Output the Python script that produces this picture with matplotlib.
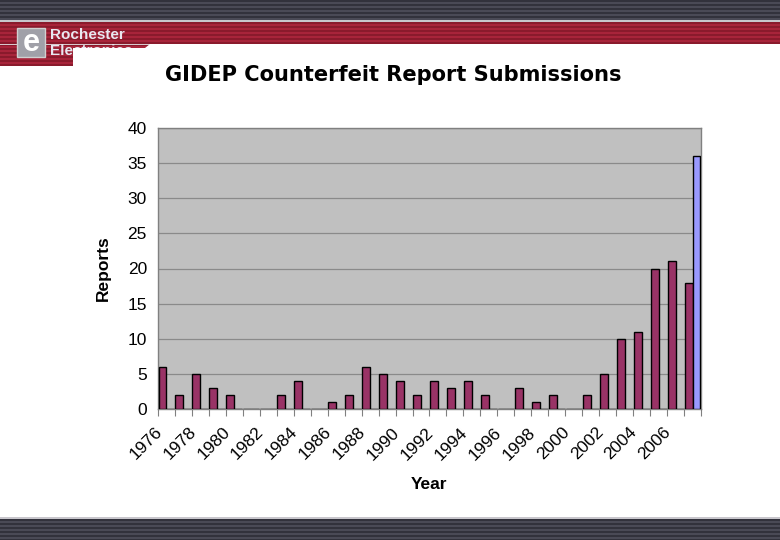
import matplotlib
matplotlib.use("Agg")
import matplotlib.pyplot as plt
from matplotlib.patches import Rectangle, Polygon
from matplotlib.transforms import ScaledTranslation
import numpy as np

plt.rcParams['font.family'] = ['Liberation Sans', 'DejaVu Sans']

# ---- data ----
years = list(range(1976, 2008))
reports = [6, 2, 5, 3, 2, 0, 0, 2, 4, 0, 1, 2, 6, 5, 4, 2, 4, 3, 4, 2,
           0, 3, 1, 2, 0, 2, 5, 10, 11, 20, 21, 18]
projected = [0] * 31 + [36]
label_years = list(range(1976, 2007, 2))

title = "GIDEP Counterfeit Report Submissions"
ylabel = "Reports"
xlabel = "Year"

W, H = 780, 540
fig = plt.figure(figsize=(W / 100, H / 100), dpi=100)
fig.patch.set_facecolor("white")

# ---- background decoration (pixel coordinates) ----
bg = fig.add_axes([0, 0, 1, 1], zorder=0)
bg.set_xlim(0, W)
bg.set_ylim(H, 0)
bg.set_axis_off()

def stripes(ax, y0, y1, c1, c2, period=4, x0=0, x1=W):
    ax.add_patch(Rectangle((x0, y0), x1 - x0, y1 - y0, color=c1, lw=0))
    y = y0
    while y < y1:
        ax.add_patch(Rectangle((x0, y), x1 - x0, min(period / 2, y1 - y), color=c2, lw=0))
        y += period

# top dark band
stripes(bg, 0, 20, "#4a4a56", "#32323c")
bg.add_patch(Rectangle((0, 20), W, 2, color="#c8c6cc", lw=0))
# red band
stripes(bg, 22, 44, "#a8243a", "#8a1a2c")
stripes(bg, 44, 66, "#a8243a", "#8a1a2c", x0=0, x1=150)
bg.add_patch(Rectangle((0, 44), W, 1.2, color="#d8c8cc", lw=0))
# logo
bg.add_patch(Rectangle((17, 28), 28, 29, facecolor="#a0a0a8", edgecolor="#d0d0d0", lw=1))
bg.text(31, 43, "e", color="white", fontsize=22, fontweight="bold",
        ha="center", va="center")
bg.text(50, 35, "Rochester", color="#e8e8f0", fontsize=11, fontweight="bold",
        ha="left", va="center", family=["Liberation Sans Narrow", "Liberation Sans"])
bg.text(50, 51, "Electronics", color="#e8e8f0", fontsize=11, fontweight="bold",
        ha="left", va="center", family=["Liberation Sans Narrow", "Liberation Sans"])
# white panel with slanted corner
bg.add_patch(Polygon([(73, 48), (145, 48), (150, 44), (W, 44), (W, 517),
                      (73, 517)], closed=True, facecolor="white", lw=0, zorder=5))
bg.add_patch(Rectangle((0, 66), 73, 451, color="white", lw=0, zorder=5))
# bottom band
bg.add_patch(Rectangle((0, 517), W, 2, color="#c8c6cc", lw=0))
stripes(bg, 519, 540, "#4a4a56", "#32323c")

# ---- chart ----
left, right, top, bottom = 158, 701, 128, 409
ax = fig.add_axes([left / W, 1 - bottom / H, (right - left) / W, (bottom - top) / H], zorder=2)
ax.set_facecolor("#c0c0c0")

n = len(years)
idx = np.arange(n)
bw = 0.47
ax.bar(idx + 0.03, reports, width=bw, align="edge", color="#993366",
       edgecolor="black", linewidth=1.0, zorder=3)
ax.bar(idx + 0.03 + bw, projected, width=bw, align="edge", color="#9999ff",
       edgecolor="black", linewidth=1.0, zorder=3)

ax.set_xlim(0, n)
ax.set_ylim(0, 40)
ax.set_yticks(range(0, 41, 5))
ax.yaxis.grid(True, color="#8a8a8a", linewidth=0.9)
ax.set_axisbelow(True)
ax.tick_params(axis="y", length=0, pad=8, labelsize=12.5)

ax.set_xticks(np.arange(0, n + 1))
ax.set_xticklabels([])
ax.tick_params(axis="x", which="major", length=5, color="#808080", direction="out")
label_pos = [years.index(y) + 0.5 for y in label_years]
ax.set_xticks(label_pos, minor=True)
ax.set_xticklabels([str(y) for y in label_years], minor=True, rotation=45,
                   ha="right", va="center", rotation_mode="anchor", fontsize=12.5)
ax.tick_params(axis="x", which="minor", length=0, pad=15)
shift = ScaledTranslation(-0.07, 0, fig.dpi_scale_trans)
for lbl in ax.get_xticklabels(minor=True):
    lbl.set_transform(lbl.get_transform() + shift)

for s in ax.spines.values():
    s.set_color("#808080")
    s.set_linewidth(1.0)

ax.set_ylabel(ylabel, fontsize=12.5, fontweight="bold", labelpad=12)
ax.set_xlabel(xlabel, fontsize=12.5, fontweight="bold", labelpad=10)
fig.text(393 / W, 1 - 75 / H, title, fontsize=15.1, fontweight="bold",
         ha="center", va="center", zorder=3, family=["DejaVu Sans"])

fig.savefig("out.png", dpi=100)
